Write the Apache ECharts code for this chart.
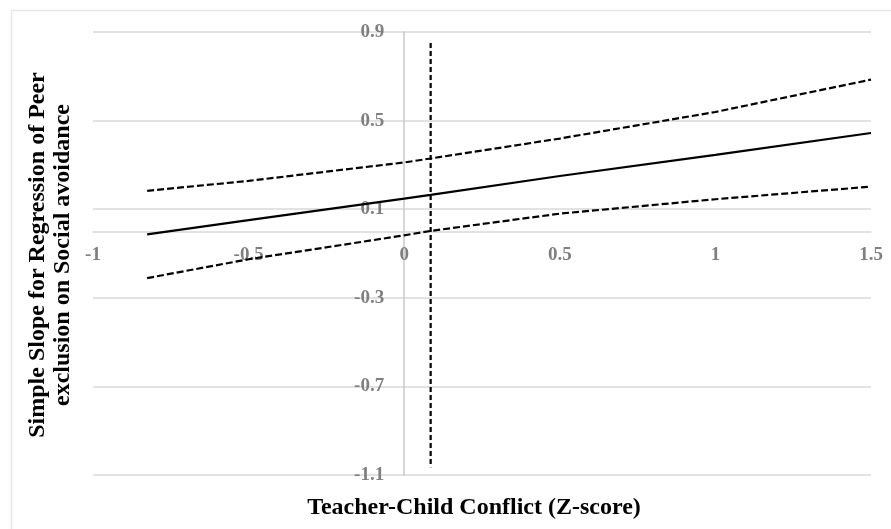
<!DOCTYPE html>
<html>
<head>
<meta charset="utf-8">
<script src="https://cdn.jsdelivr.net/npm/echarts@6/dist/echarts.min.js"></script>
<style>
  html, body { margin: 0; padding: 0; background: #ffffff; }
  #chart { width: 891px; height: 529px; }
</style>
</head>
<body>
<div id="chart"></div>
<script>
// Teacher-child conflict (Z-score) values where the slope and its bounds are evaluated
const conflictZ = [-0.826, -0.5, 0, 0.085, 0.5, 1, 1.5];
// Simple slope estimate
const slopeEstimate = [-0.014, 0.051, 0.148, 0.165, 0.250, 0.345, 0.444];
// Upper and lower confidence bounds
const upperBound = [0.183, 0.228, 0.311, 0.329, 0.419, 0.539, 0.685];
const lowerBound = [-0.211, -0.126, -0.018, 0.002, 0.080, 0.145, 0.202];
// Region-of-significance marker (vertical line)
const markerX = [0.085, 0.085];
const markerY = [0.85, -1.065];
// Axis ticks
const xTicks = [-1, -0.5, 0, 0.5, 1, 1.5];
const yTicks = [-1.1, -0.7, -0.3, 0.1, 0.5, 0.9];

const serif = '"Liberation Serif", "Times New Roman", serif';
const zip = (xs, ys) => xs.map((x, i) => [x, ys[i]]);

// Plot area
const W = 891, H = 529;
const grid = { left: 93, right: 20, top: 32, bottom: 54 };
const gridW = W - grid.left - grid.right;
const gridH = H - grid.top - grid.bottom;
const xMin = xTicks[0], xMax = xTicks[xTicks.length - 1];
const yMin = yTicks[0], yMax = yTicks[yTicks.length - 1];
// Both axes (line, labels) cross at the origin of the other axis
const yAxisShift = (0 - xMin) / (xMax - xMin) * gridW;
const xAxisShift = (0 - yMin) / (yMax - yMin) * gridH;

const chart = echarts.init(document.getElementById('chart'), null, { renderer: 'canvas' });

const dashed = { color: '#000', width: 2.2, type: [7, 3] };
const tickFont = { color: '#7f7f7f', fontFamily: serif, fontWeight: 'bold', fontSize: 19 };

chart.setOption({
  animation: false,
  backgroundColor: '#ffffff',
  grid: Object.assign({ containLabel: false }, grid),
  xAxis: {
    type: 'value',
    min: xMin,
    max: xMax,
    interval: 0.5,
    offset: -xAxisShift,
    axisLine: { show: true, onZero: false, lineStyle: { color: '#d9d9d9', width: 1.5 } },
    axisTick: { show: false },
    splitLine: { show: false },
    axisLabel: Object.assign({
      margin: 14,
      formatter: v => String(Math.round(v * 10) / 10)
    }, tickFont)
  },
  yAxis: {
    type: 'value',
    min: yMin,
    max: yMax,
    interval: 0.4,
    offset: -yAxisShift,
    axisLine: { show: true, onZero: false, lineStyle: { color: '#c8c8c8', width: 1.5 } },
    axisTick: { show: false },
    splitLine: { show: true, lineStyle: { color: '#d9d9d9', width: 1.5 } },
    axisLabel: Object.assign({
      margin: 20,
      formatter: v => (Math.round(v * 10) / 10).toFixed(1)
    }, tickFont)
  },
  series: [
    {
      type: 'line', data: zip(conflictZ, upperBound), symbol: 'none',
      lineStyle: dashed, z: 3
    },
    {
      type: 'line', data: zip(conflictZ, slopeEstimate), symbol: 'none',
      lineStyle: { color: '#000', width: 2.2, type: 'solid' }, z: 3
    },
    {
      type: 'line', data: zip(conflictZ, lowerBound), symbol: 'none',
      lineStyle: dashed, z: 3
    },
    {
      type: 'line', data: zip(markerX, markerY), symbol: 'none',
      lineStyle: { color: '#000', width: 2.2, type: [5, 3] }, z: 4
    }
  ],
  graphic: [
    {
      type: 'rect', left: 9, top: 8, z: -1, silent: true,
      shape: { width: 900, height: 540 },
      style: { fill: 'none', stroke: '#e6e6e6', lineWidth: 1.5 }
    },
    {
      type: 'text', x: 50, y: 255, rotation: Math.PI / 2,
      style: {
        text: 'Simple Slope for Regression of Peer\nexclusion on Social avoidance',
        font: 'bold 24px ' + serif, fill: '#000',
        align: 'center', verticalAlign: 'middle', lineHeight: 25
      }
    },
    {
      type: 'text', x: 474, y: 508,
      style: {
        text: 'Teacher-Child Conflict (Z-score)',
        font: 'bold 24px ' + serif, fill: '#000',
        align: 'center', verticalAlign: 'middle'
      }
    }
  ]
});
</script>
</body>
</html>
